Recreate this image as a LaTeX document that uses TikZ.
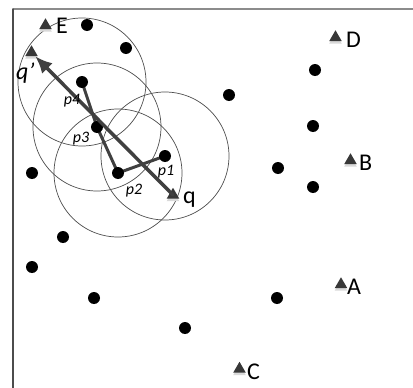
\documentclass[tikz,border=0pt]{standalone}
\usepackage{fontspec}
\setmainfont{Carlito}
\usetikzlibrary{arrows.meta,shapes.geometric,shadows,backgrounds}

\begin{document}
\begin{tikzpicture}[x=1pt,y=-1pt,line cap=round,line join=round,
  dot/.style={circle,fill=black,inner sep=0pt,minimum size=12pt},
  tri/.style={regular polygon,regular polygon sides=3,fill=black!78,inner sep=0pt,
    minimum size=14.5pt,drop shadow={shadow xshift=0pt,shadow yshift=-2.5pt,fill=black!15,opacity=1}},
  lbl/.style={anchor=base west,inner sep=0pt,font=\fontsize{24}{24}\selectfont},
  plbl/.style={inner sep=0pt,font=\fontsize{16}{16}\selectfont\itshape},
  ring/.style={draw=black!70,line width=0.7pt},
  hop/.style={draw=black!75,line width=3pt}]
  \useasboundingbox (0,0) rectangle (413,388);
  \draw[line width=1.3pt,black!45] (13,9) -- (413,9);
  \draw[line width=1.3pt,black!70] (13,9) -- (13,388);
  % route points
  \node[dot] (p1) at (165,156) {};
  \node[dot] (p2) at (118,173) {};
  \node[dot] (p3) at (97,127) {};
  \node[dot] (p4) at (82,82) {};
  % other points
  \foreach \x/\y [count=\i] in {87/25,126/48,229/95,32/173,315/70,313/126,278/168,
      313/187,63/237,32/267,94/298,185/328,277/298} {
    \node[dot] (d\i) at (\x,\y) {};
  }
  % query objects
  \node[tri] (tq) at (173,195) {};
  \node[tri] (tqq) at (31.5,52.5) {};
  \node[tri] (tE) at (45.5,25.5) {};
  \node[tri] (tD) at (335.5,37.5) {};
  \node[tri] (tB) at (350.5,160.5) {};
  \node[tri] (tA) at (341,284.5) {};
  \node[tri] (tC) at (239.5,369) {};
  \begin{scope}[on background layer]
    \foreach \p in {p1,p2,p3,p4} {
      \draw[ring] (\p.center) circle (64);
    }
    \draw[hop] (p1.center) -- (p2.center) -- (p3.center) -- (p4.center);
  \end{scope}
  \draw[line width=3.5pt,black!75,-{Latex[length=17pt,width=15pt]}] (tq.center) -- (tqq);
  \node[lbl] (lE) at (56,33) {E};
  \node[lbl] (lD) at (346,48) {D};
  \node[lbl] (lB) at (359,170) {B};
  \node[lbl] (lA) at (347,294) {A};
  \node[lbl] (lC) at (247,379) {C};
  \node[lbl] (lq) at (183,203) {q};
  \node[lbl] (lqq) at (16,79) {\itshape q’};
  \node[plbl] (l1) at (166,172) {p1};
  \node[plbl] (l2) at (134,191) {p2};
  \node[plbl] (l3) at (81,139) {p3};
  \node[plbl] (l4) at (72,101) {p4};
\end{tikzpicture}
\end{document}
